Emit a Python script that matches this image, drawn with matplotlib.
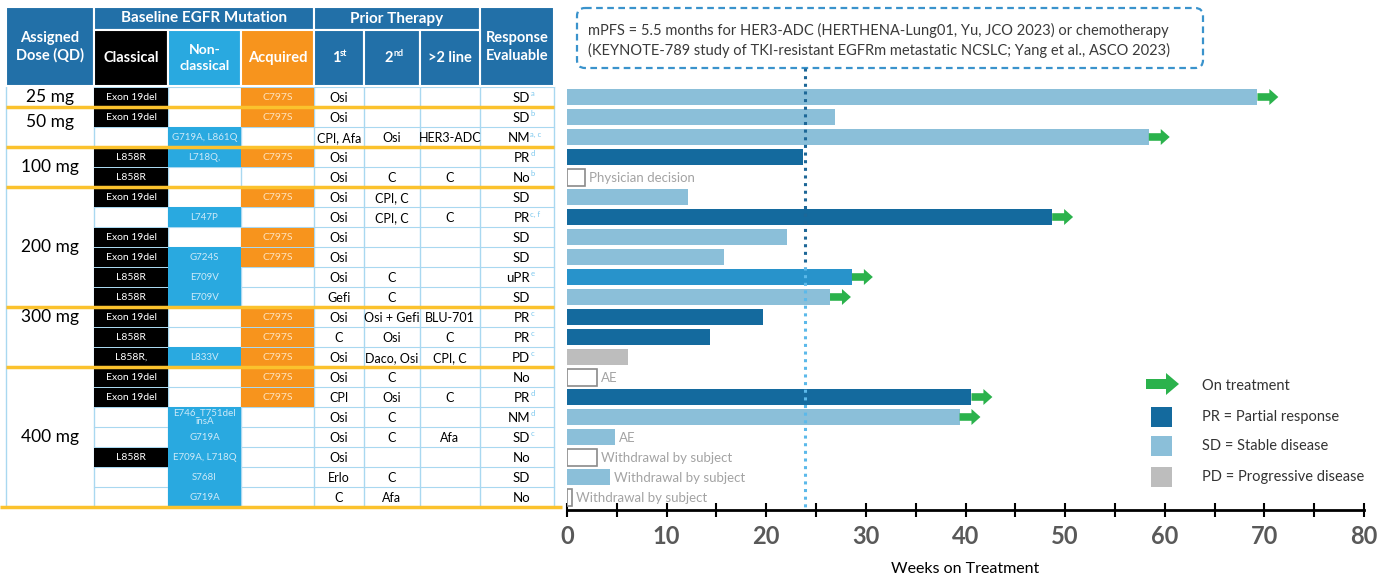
import matplotlib.pyplot as plt
import numpy as np
from matplotlib.patches import Rectangle, FancyBboxPatch, FancyArrow

plt.rcParams['font.family'] = ['Lato', 'DejaVu Sans']

# ---- data ----
doses = ['25 mg', '50 mg', '100 mg', '200 mg', '300 mg', '400 mg']
dose_rows = [1, 2, 2, 6, 3, 7]
dose_label_pos = [0, 1.25, 3.5, 7.5, 11, 17]

classical = ['Exon 19del', 'Exon 19del', '', 'L858R', 'L858R', 'Exon 19del', '', 'Exon 19del',
             'Exon 19del', 'L858R', 'L858R', 'Exon 19del', 'L858R', 'L858R,', 'Exon 19del',
             'Exon 19del', '', '', 'L858R', '', '']
nonclassical = ['', '', 'G719A, L861Q', 'L718Q,', '', '', 'L747P', '', 'G724S', 'E709V', 'E709V',
                '', '', 'L833V', '', '', 'E746_T751del\ninsA', 'G719A', 'E709A, L718Q', 'S768I', 'G719A']
acquired = ['C797S', 'C797S', '', 'C797S', '', 'C797S', '', 'C797S', 'C797S', '', '', 'C797S',
            'C797S', 'C797S', 'C797S', 'C797S', '', '', '', '', '']
first_line = ['Osi', 'Osi', 'CPI, Afa', 'Osi', 'Osi', 'Osi', 'Osi', 'Osi', 'Osi', 'Osi', 'Gefi',
              'Osi', 'C', 'Osi', 'Osi', 'CPI', 'Osi', 'Osi', 'Osi', 'Erlo', 'C']
second_line = ['', '', 'Osi', '', 'C', 'CPI, C', 'CPI, C', '', '', 'C', 'C', 'Osi + Gefi', 'Osi',
               'Daco, Osi', 'C', 'Osi', 'C', 'C', '', 'C', 'Afa']
third_line = ['', '', 'HER3-ADC', '', 'C', '', 'C', '', '', '', '', 'BLU-701', 'C', 'CPI, C', '',
              'C', '', 'Afa', '', '', '']
response = ['SD', 'SD', 'NM', 'PR', 'No', 'SD', 'PR', 'SD', 'SD', 'uPR', 'SD', 'PR', 'PR', 'PD',
            'No', 'PR', 'NM', 'SD', 'No', 'SD', 'No']
footnotes = ['a', 'b', 'a, c', 'd', 'b', '', 'c, f', '', '', 'e', '', 'c', 'c', 'c', '', 'd', 'd',
             'c', '', '', '']

weeks = [69.3, 26.9, 58.4, 23.7, 1.8, 12.1, 48.7, 22.1, 15.8, 28.6, 26.4, 19.7, 14.4, 6.1, 3.0,
         40.6, 39.4, 4.8, 3.0, 4.3, 0.5]
bar_type = ['SD', 'SD', 'SD', 'PR', 'none', 'SD', 'PR', 'SD', 'SD', 'uPR', 'SD', 'PR', 'PR', 'PD',
            'none', 'PR', 'SD', 'SD', 'none', 'SD', 'none']
on_treatment = [0, 2, 6, 9, 10, 15, 16]
bar_notes = ['', '', '', '', 'Physician decision', '', '', '', '', '', '', '', '', '', 'AE', '', '',
             'AE', 'Withdrawal by subject', 'Withdrawal by subject', 'Withdrawal by subject']
mpfs_weeks = 23.9

# ---- colours ----
c_head = '#2270a8'
c_lblue = '#29a9e0'
c_orange = '#f7941d'
c_grid = '#a9d8f0'
c_yellow = '#fbc22d'
bar_colors = {'PR': '#146a9e', 'SD': '#8bbfd9', 'uPR': '#2893cb', 'PD': '#bdbdbd'}
c_green = '#2bb24c'
c_note = '#a3a3a3'

fig = plt.figure(figsize=(13.93, 5.78), dpi=100)
ov = fig.add_axes([0, 0, 1, 1])
ov.set_xlim(0, 1393)
ov.set_ylim(578, 0)
ov.axis('off')

# ---- table ----
edges = [6, 94, 168, 241, 314, 364, 420, 480, 554]
cx = [(edges[k] + edges[k + 1]) / 2 for k in range(8)]
h_top, h_mid, h_bot = 7, 30, 86
body_top = 87
rh = 20
n = len(weeks)

def cell(x0, x1, y0, y1, fc, ec='white', lw=1.5, z=2):
    ov.add_patch(Rectangle((x0, y0), x1 - x0, y1 - y0, fc=fc, ec=ec, lw=lw, zorder=z))

cell(edges[0], edges[8], h_top, h_bot, c_head, lw=0)
cell(edges[0], edges[1], h_top, h_bot, c_head)
cell(edges[1], edges[4], h_top, h_mid, c_head)
cell(edges[4], edges[7], h_top, h_mid, c_head)
cell(edges[7], edges[8], h_top, h_bot, c_head)
cell(edges[1], edges[2], h_mid, h_bot, 'black')
cell(edges[2], edges[3], h_mid, h_bot, c_lblue)
cell(edges[3], edges[4], h_mid, h_bot, c_orange)
for k in (4, 5, 6):
    cell(edges[k], edges[k + 1], h_mid, h_bot, c_head)

hd = dict(color='white', fontweight='bold', ha='center', va='center', zorder=5)
ov.text(cx[0], 47, 'Assigned\nDose (QD)', fontsize=10.5, linespacing=1.3, **hd)
ov.text((edges[1] + edges[4]) / 2, 18.5, 'Baseline EGFR Mutation', fontsize=11, **hd)
ov.text((edges[4] + edges[7]) / 2, 18.5, 'Prior Therapy', fontsize=11, **hd)
ov.text(cx[7], 47, 'Response\nEvaluable', fontsize=10.5, linespacing=1.3, **hd)
ov.text(cx[1], 58, 'Classical', fontsize=10.5, **hd)
ov.text(cx[2], 58, 'Non-\nclassical', fontsize=10, linespacing=1.3, **hd)
ov.text(cx[3], 58, 'Acquired', fontsize=10.5, **hd)
for k, (main, sup) in zip((4, 5), (('1', 'st'), ('2', 'nd'))):
    ov.text(cx[k] - 3, 58, main, fontsize=10.5, **hd)
    ov.text(cx[k] + 1, 53, sup, fontsize=6.5, color='white', fontweight='bold', ha='left',
            va='center', zorder=5)
ov.text(cx[6], 58, '>2 line', fontsize=10.5, **hd)

# body grid
for k in range(n + 1):
    y = body_top + k * rh
    ov.plot([edges[1], edges[8]], [y, y], color=c_grid, lw=0.8, zorder=1)
for x in edges:
    ov.plot([x, x], [body_top, body_top + n * rh], color=c_grid, lw=1.0, zorder=1)

for i in range(n):
    y0 = body_top + i * rh
    yc = y0 + rh / 2
    if classical[i]:
        cell(edges[1], edges[2], y0 + 0.5, y0 + rh - 0.5, 'black', lw=0)
        ov.text(cx[1], yc, classical[i], fontsize=7.5, color='white', ha='center', va='center', zorder=5)
    if nonclassical[i]:
        cell(edges[2], edges[3], y0, y0 + rh, c_lblue, lw=0)
        ov.text(cx[2], yc, nonclassical[i], fontsize=7, color='#cdeaf8', ha='center', va='center',
                linespacing=1.0, zorder=5)
    if acquired[i]:
        cell(edges[3], edges[4], y0 + 0.5, y0 + rh - 0.5, c_orange, lw=0)
        ov.text(cx[3], yc, acquired[i], fontsize=7.5, color='#fde2bd', ha='center', va='center', zorder=5)
    for k, lst in zip((4, 5, 6), (first_line, second_line, third_line)):
        if lst[i]:
            ov.text(cx[k], yc + 1, lst[i], fontsize=9, color='black', ha='center', va='center', zorder=5)
    ov.text(cx[7] + 13, yc + 1, response[i], fontsize=9.5, color='black', ha='right',
            va='center', zorder=5)
    if footnotes[i]:
        ov.text(cx[7] + 13.5, yc - 3, footnotes[i], fontsize=5.5, color='#7cc8ee', ha='left',
                va='center', zorder=5)

# dose labels and separators
start = 0
for d, nr, pos in zip(doses, dose_rows, dose_label_pos):
    ov.text(cx[0], body_top + pos * rh + rh / 2, d, fontsize=12.5, color='black', ha='center',
            va='center', zorder=5)
    start += nr
    y = body_top + start * rh
    x0, x1 = (0, 562) if start == n else (edges[0], edges[8])
    ov.plot([x0, x1], [y, y], color=c_yellow, lw=2.5, zorder=4, solid_capstyle='butt')

# ---- bars ----
bx = fig.add_axes([567 / 1393, 68 / 578, 797 / 1393, 450 / 578])
bx.patch.set_visible(False)
rows = np.arange(n)
for i in rows:
    if bar_type[i] == 'none':
        bx.barh(i, weeks[i], height=0.85, color='white', edgecolor='#8a8a8a', linewidth=1.2, zorder=2)
    else:
        bx.barh(i, weeks[i], height=0.8, color=bar_colors[bar_type[i]], zorder=2)
    if bar_notes[i]:
        bx.text(weeks[i] + 0.4, i + 0.05, bar_notes[i], fontsize=9.5, color=c_note, va='center', ha='left')
for i in on_treatment:
    bx.add_patch(FancyArrow(weeks[i], i, 2.1, 0, width=0.38, head_width=0.8, head_length=0.9,
                            length_includes_head=True, color=c_green, lw=0, zorder=3))

bx.plot([mpfs_weeks, mpfs_weeks], [-1.45, 8.5], ls=(0, (1, 1.5)), color='#1d6797', lw=2.2, zorder=4)
bx.plot([mpfs_weeks, mpfs_weeks], [8.5, 20.6], ls=(0, (1, 1.5)), color='#5bb9ea', lw=2.2, zorder=4)

bx.set_xlim(0, 80)
bx.set_ylim(20.65, -1.85)
bx.set_yticks([])
for s in ('top', 'right', 'left'):
    bx.spines[s].set_visible(False)
bx.spines['bottom'].set_linewidth(2)
bx.set_xticks(np.arange(0, 81, 10))
bx.set_xticks(np.arange(5, 80, 10), minor=True)
bx.tick_params(axis='x', which='both', direction='inout', length=10, width=1.5, color='black')
bx.tick_params(axis='x', which='major', labelsize=17, labelcolor='#595959', pad=6)
for lab in bx.get_xticklabels():
    lab.set_fontweight('bold')
bx.set_xlabel('Weeks on Treatment', fontsize=11.5, labelpad=10)

# ---- annotation box ----
ov.add_patch(FancyBboxPatch((577, 8), 626, 60, boxstyle='round,pad=0,rounding_size=8',
                            fc='white', ec='#3a93cc', lw=1.6, ls=(0, (3, 2)), zorder=3))
ov.text(588, 30, 'mPFS = 5.5 months for HER3-ADC (HERTHENA-Lung01, Yu, JCO 2023) or chemotherapy',
        fontsize=10.5, color='#3a3a3a', va='center', ha='left', zorder=5)
ov.text(588, 50, '(KEYNOTE-789 study of TKI-resistant EGFRm metastatic NCSLC; Yang et al., ASCO 2023)',
        fontsize=10.5, color='#3a3a3a', va='center', ha='left', zorder=5)

# ---- legend ----
ov.add_patch(FancyArrow(1146, 384, 33, 0, width=10, head_width=22, head_length=13,
                        length_includes_head=True, color=c_green, lw=0, zorder=3))
ov.text(1202, 386, 'On treatment', fontsize=10.5, color='#333333', va='center')
leg = [('PR', 'PR = Partial response', 417), ('SD', 'SD = Stable disease', 446),
       ('PD', 'PD = Progressive disease', 477)]
for key, label, y in leg:
    ov.add_patch(Rectangle((1151, y - 10), 21, 20, fc=bar_colors[key], lw=0, zorder=3))
    ov.text(1202, y, label, fontsize=10.5, color='#333333', va='center')

fig.savefig('out.png', dpi=100)
